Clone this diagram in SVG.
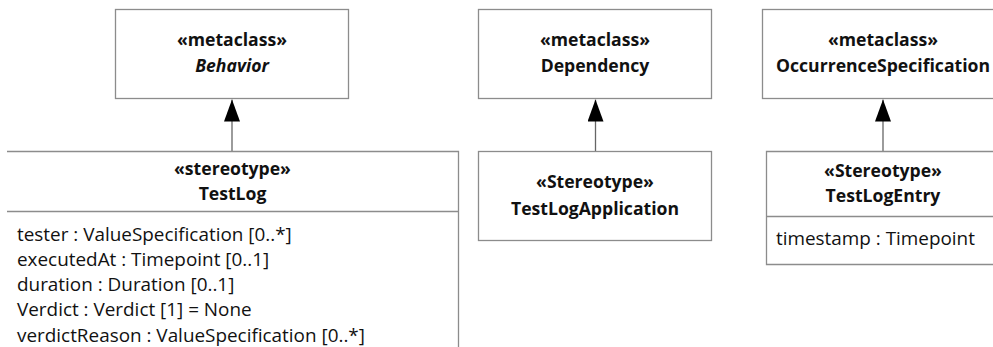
<svg xmlns="http://www.w3.org/2000/svg" width="993" height="347" viewBox="0 0 993 347">
<style>
.box{fill:#ffffff;stroke:#8c8c8c;stroke-width:1.3}
.ln{fill:none;stroke:#8c8c8c;stroke-width:1.3}
.t{font-family:"Open Sans","Liberation Sans",sans-serif;font-size:17.6px;font-weight:bold;fill:#111;text-anchor:middle}
.i{font-style:italic}
.a{font-family:"Open Sans","Liberation Sans",sans-serif;font-size:18.9px;fill:#111}
.c{stroke:#666;stroke-width:1.3;fill:none}
</style>
<defs>
<marker id="gen" viewBox="0 0 22 16" refX="22" refY="8" markerWidth="22" markerHeight="16" markerUnits="userSpaceOnUse" orient="auto">
<path d="M0,0 L22,8 L0,16 Z" fill="#000"/>
</marker>
</defs>
<rect width="993" height="347" fill="#fff"/>
<g id="connectors">
<line class="c" x1="232" y1="151" x2="232" y2="99.5" marker-end="url(#gen)"/>
<line class="c" x1="595.5" y1="151" x2="595.5" y2="99.5" marker-end="url(#gen)"/>
<line class="c" x1="883" y1="151" x2="883" y2="99.5" marker-end="url(#gen)"/>
</g>
<g id="behavior">
<rect class="box" x="115.5" y="9.5" width="233" height="89"/>
<text class="t" x="232" y="46">«metaclass»</text>
<text class="t i" x="232" y="72">Behavior</text>
</g>
<g id="dependency">
<rect class="box" x="478.5" y="9.5" width="233" height="89"/>
<text class="t" x="595" y="46">«metaclass»</text>
<text class="t" x="595" y="72">Dependency</text>
</g>
<g id="occurrence">
<rect class="box" x="762.5" y="9.5" width="240" height="89"/>
<text class="t" x="883" y="46">«metaclass»</text>
<text class="t" x="883" y="72">OccurrenceSpecification</text>
</g>
<g id="testlog">
<path class="ln" d="M7,151.5 H458.5 V347 M7,211.5 H458.5"/>
<text class="t" x="232.5" y="175">«stereotype»</text>
<text class="t" x="232.5" y="200">TestLog</text>
<text class="a" x="17" y="240.5">tester : ValueSpecification [0..*]</text>
<text class="a" x="17" y="265.8">executedAt : Timepoint [0..1]</text>
<text class="a" x="17" y="291.1">duration : Duration [0..1]</text>
<text class="a" x="17" y="316.4">Verdict : Verdict [1] = None</text>
<text class="a" x="17" y="341.7">verdictReason : ValueSpecification [0..*]</text>
</g>
<g id="testlogapplication">
<rect class="box" x="478.5" y="151.5" width="233" height="89"/>
<text class="t" x="595" y="188">«Stereotype»</text>
<text class="t" x="595" y="215">TestLogApplication</text>
</g>
<g id="testlogentry">
<path class="ln" d="M1000,151.5 H766.5 V264.5 H1000 M766.5,216.5 H1000"/>
<text class="t" x="883" y="177">«Stereotype»</text>
<text class="t" x="883" y="202">TestLogEntry</text>
<text class="a" x="776" y="245">timestamp : Timepoint</text>
</g>
</svg>
